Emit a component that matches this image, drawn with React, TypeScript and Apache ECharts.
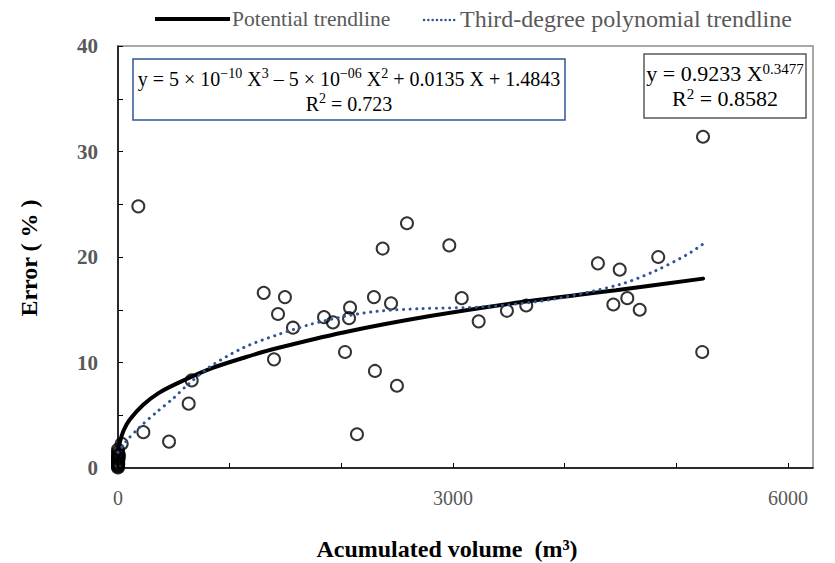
import React, { useEffect, useRef } from "react";
import * as echarts from "echarts";

// Observed points (accumulated volume m³, error %)
const scatterX = [0, 0, 0, 0, 0, 0, 0, 0, 0, 0, 0, 0, 3, 6, 9, 33, 182, 227, 457, 633, 660, 1305, 1397, 1433, 1495, 1567, 1845, 1925, 2033, 2069, 2078, 2140, 2292, 2301, 2370, 2445, 2498, 2588, 2967, 3078, 3230, 3483, 3656, 4298, 4436, 4493, 4561, 4672, 4838, 5239, 5232];
const scatterY = [0.05, 0.15, 0.25, 0.35, 0.5, 0.65, 0.8, 0.95, 1.1, 1.3, 1.5, 1.75, 0.4, 0.9, 1.2, 2.3, 24.8, 3.4, 2.5, 6.1, 8.3, 16.6, 10.3, 14.6, 16.2, 13.3, 14.3, 13.8, 11.0, 14.2, 15.2, 3.2, 16.2, 9.2, 20.8, 15.6, 7.8, 23.2, 21.1, 16.1, 13.9, 14.9, 15.4, 19.4, 15.5, 18.8, 16.1, 15.0, 20.0, 31.4, 11.0];

// Potential trendline
const powerX = [1, 5, 18, 52, 104, 226, 363, 525, 824, 1141, 1421, 2018, 2795, 3631, 4460, 5239];
const powerY = [0.92, 1.61, 2.5, 3.6, 4.58, 6.0, 7.1, 8.0, 9.4, 10.5, 11.35, 12.85, 14.4, 15.75, 16.85, 17.95];

// Third-degree polynomial trendline
const polyX = [0, 78, 197, 346, 495, 615, 824, 1122, 1421, 1720, 2018, 2316, 2704, 3302, 3898, 4496, 4793, 5092, 5242];
const polyY = [1.48, 2.6, 3.9, 5.3, 6.6, 7.8, 9.6, 11.4, 12.6, 13.6, 14.35, 14.85, 15.1, 15.3, 16.0, 17.4, 18.6, 20.2, 21.25];

const xLabelTicks = [0, 3000, 6000];
const yLabelTicks = [0, 10, 20, 30, 40];
const legendLabels = ["Potential trendline", "Third-degree polynomial trendline"];
const xTitle = "Acumulated volume  (m³)";
const yTitle = "Error ( % )";

const FONT = "'Liberation Serif', 'DejaVu Serif', serif";
const BLUE = "#2f5597";

export default function App() {
  const ref = useRef<HTMLDivElement>(null);
  useEffect(() => {
    const chart = echarts.init(ref.current!, null, { renderer: "svg" });
    const sup1 = { fontSize: 14, fontFamily: FONT, color: "#404040", verticalAlign: "top", lineHeight: 14 };
    const nrm1 = { fontSize: 20, fontFamily: FONT, color: "#404040", lineHeight: 25 };
    const sup2 = { fontSize: 15, fontFamily: FONT, color: "#404040", verticalAlign: "top", lineHeight: 15 };
    const nrm2 = { fontSize: 22, fontFamily: FONT, color: "#404040", lineHeight: 25 };
    chart.setOption({
      animation: false,
      grid: { left: 118, top: 46, right: 22, bottom: 95, show: true, borderColor: "#8c8c8c", borderWidth: 1.5 },
      xAxis: {
        type: "value", min: 0, max: 6224, interval: 1000,
        axisLine: { lineStyle: { color: "#000", width: 1.5 } },
        axisTick: { inside: true, length: 5, lineStyle: { color: "#000" } },
        splitLine: { show: false },
        axisLabel: {
          margin: 20, color: "#595959", fontSize: 20, fontFamily: FONT, showMaxLabel: false,
          formatter: (v: number) => (xLabelTicks.includes(v) ? String(v) : ""),
        },
      },
      yAxis: {
        type: "value", min: 0, max: 40, interval: 5,
        axisLine: { lineStyle: { color: "#000", width: 1.5 } },
        axisTick: { inside: true, length: 5, lineStyle: { color: "#000" } },
        splitLine: { show: false },
        axisLabel: {
          margin: 20, color: "#595959", fontSize: 21, fontWeight: "bold", fontFamily: FONT,
          formatter: (v: number) => (yLabelTicks.includes(v) ? String(v) : ""),
        },
      },
      series: [
        {
          type: "scatter", symbol: "circle", symbolSize: 12, z: 2,
          itemStyle: { color: "rgba(255,255,255,0)", borderColor: "#000", borderWidth: 2 },
          data: scatterX.map((x, i) => [x, scatterY[i]]),
        },
        {
          type: "line", name: legendLabels[0], showSymbol: false, smooth: 0.3, z: 3,
          lineStyle: { color: "#000", width: 4, cap: "round" },
          data: powerX.map((x, i) => [x, powerY[i]]),
        },
        {
          type: "line", name: legendLabels[1], showSymbol: false, smooth: 0.3, z: 4,
          lineStyle: { color: BLUE, width: 3, type: [0.1, 6.5], cap: "round" },
          data: polyX.map((x, i) => [x, polyY[i]]),
        },
      ],
      graphic: [
        { type: "line", shape: { x1: 155, y1: 19, x2: 230, y2: 19 }, style: { stroke: "#000", lineWidth: 4 } },
        { type: "text", x: 232, y: 19, style: { text: legendLabels[0], fontSize: 21.5, fontFamily: FONT, fill: "#595959", verticalAlign: "middle" } },
        { type: "line", shape: { x1: 424, y1: 20, x2: 457, y2: 20 }, style: { stroke: BLUE, lineWidth: 2.5, lineDash: [0.1, 4.2], lineCap: "round" } },
        { type: "text", x: 460, y: 19, style: { text: legendLabels[1], fontSize: 24, fontFamily: FONT, fill: "#595959", verticalAlign: "middle" } },
        { type: "rect", shape: { x: 133, y: 59, width: 432, height: 61 }, style: { fill: "#fff", stroke: BLUE, lineWidth: 1.5 }, z: 10 },
        {
          type: "text", x: 349, y: 66, z: 11,
          style: {
            text: "{n|y = 5 × 10}{s|−10}{n| X}{s|3}{n| – 5 × 10}{s|−06}{n| X}{s|2}{n| + 0.0135 X + 1.4843}\n{n|R}{s|2}{n| = 0.723}",
            align: "center", verticalAlign: "top", rich: { n: nrm1, s: sup1 },
          },
        },
        { type: "rect", shape: { x: 644, y: 54, width: 162, height: 64 }, style: { fill: "#fff", stroke: "#595959", lineWidth: 1.5 }, z: 10 },
        {
          type: "text", x: 725, y: 61, z: 11,
          style: {
            text: "{n|y = 0.9233 X}{s|0.3477}\n{n|R}{s|2}{n| = 0.8582}",
            align: "center", verticalAlign: "top", rich: { n: nrm2, s: sup2 },
          },
        },
        { type: "text", x: 447, y: 549, style: { text: xTitle, fontSize: 24, fontWeight: "bold", fontFamily: FONT, fill: "#000", align: "center", verticalAlign: "middle" } },
        { type: "text", x: 29, y: 258, rotation: Math.PI / 2, style: { text: yTitle, fontSize: 24, fontWeight: "bold", fontFamily: FONT, fill: "#000", align: "center", verticalAlign: "middle" } },
      ],
    });
    return () => chart.dispose();
  }, []);
  return <div ref={ref} style={{ position: "absolute", left: 0, top: 0, width: 835, height: 563 }} />;
}
